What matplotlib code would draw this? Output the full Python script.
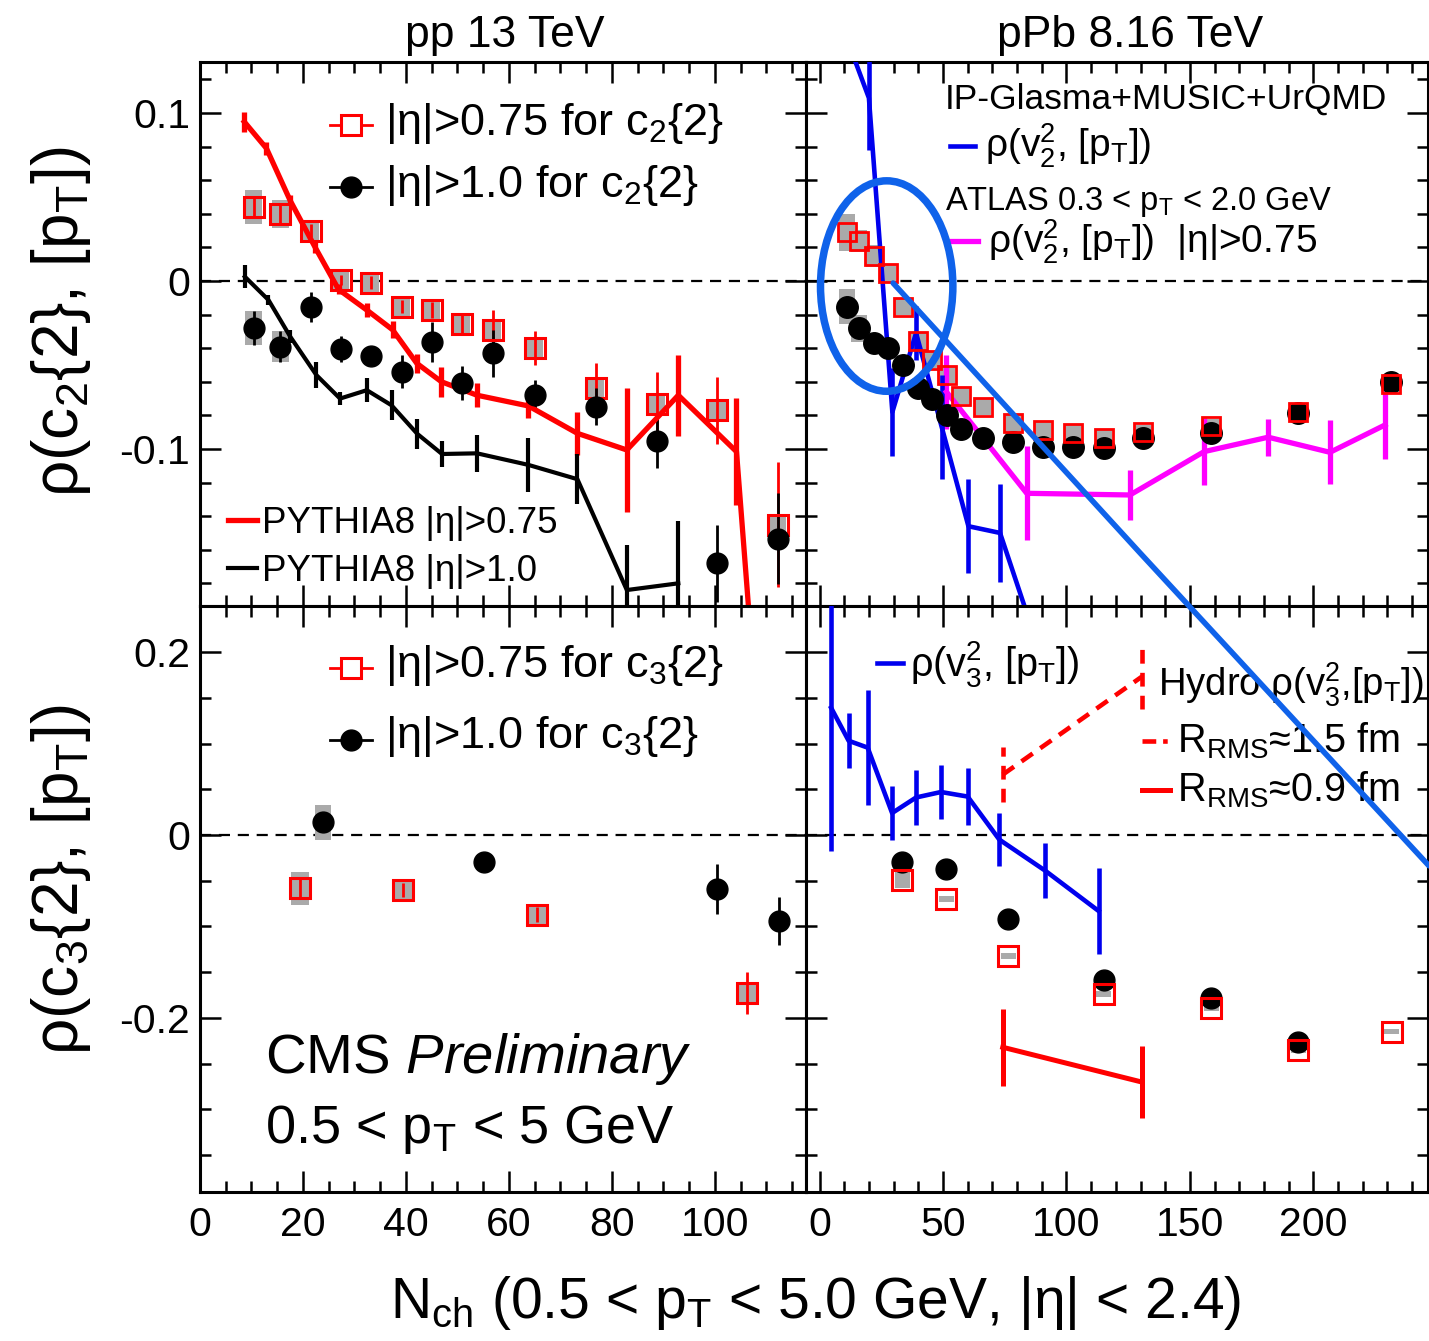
import matplotlib
matplotlib.use('Agg')
import matplotlib.pyplot as plt
from matplotlib.lines import Line2D
from matplotlib.patches import Ellipse
from matplotlib.ticker import MultipleLocator

plt.rcParams['font.family'] = ['Liberation Sans', 'DejaVu Sans']
plt.rcParams['mathtext.fontset'] = 'custom'
plt.rcParams['mathtext.rm'] = 'Liberation Sans'
plt.rcParams['mathtext.it'] = 'Liberation Sans:italic'
plt.rcParams['mathtext.bf'] = 'Liberation Sans:bold'

# ---------------- data: pp 13 TeV, c2 ----------------
pp_x = [10.4, 15.6, 21.5, 27.4, 33.2, 39.2, 45.0, 50.9, 56.9, 65.1, 76.9, 88.7, 100.5, 112.3]
pp_c2_075 = [0.044, 0.040, 0.030, 0.0006, -0.001, -0.0153, -0.0173, -0.0255, -0.029, -0.040,
             -0.064, -0.073, -0.077, -0.145]
pp_c2_075_stat = [0.006, 0.006, 0.004, 0.003, 0.004, 0.004, 0.005, 0.006, 0.012, 0.010,
                  0.015, 0.019, 0.020, 0.037]
pp_c2_075_sys = [0.010, 0.0085, 0.0065, 0.0055, 0.0055, 0.0055, 0.0055, 0.0055, 0.0055, 0.0055,
                 0.0055, 0.0055, 0.0055, 0.0065]
pp_c2_10 = [-0.028, -0.039, -0.0155, -0.0405, -0.0445, -0.054, -0.0365, -0.0606, -0.043, -0.068,
            -0.075, -0.0955, -0.168, -0.1535]
pp_c2_10_stat = [0.010, 0.009, 0.009, 0.008, 0.005, 0.010, 0.012, 0.010, 0.014, 0.009,
                 0.011, 0.016, 0.023, 0.027]
pp_c2_10_sys = [0.010, 0.009, 0.003, 0.003, 0.003, 0.003, 0.003, 0.003, 0.003, 0.003,
                0.003, 0.003, 0.003, 0.003]

# PYTHIA8
py075_x = [8.6, 12.9, 17.5, 22.3, 26.9, 32.4, 37.4, 42.1, 46.9, 53.8, 63.8, 73.3, 82.9, 92.9, 104.2, 113.5]
py075_y = [0.0948, 0.079, 0.048, 0.0204, -0.005, -0.0173, -0.029, -0.049, -0.060, -0.068,
           -0.0744, -0.0907, -0.1006, -0.068, -0.1016, -0.47]
py075_e = [0.006, 0.004, 0.003, 0.004, 0.003, 0.004, 0.005, 0.0055, 0.009, 0.007,
           0.007, 0.013, 0.037, 0.024, 0.032, 0.03]
py10_x = [8.7, 13.3, 17.5, 22.6, 27.2, 32.4, 37.2, 42.2, 47.0, 53.8, 63.8, 73.3, 82.9, 92.9]
py10_y = [0.0026, -0.0113, -0.033, -0.056, -0.070, -0.065, -0.074, -0.091, -0.103, -0.1026,
          -0.1095, -0.118, -0.184, -0.180]
py10_e = [0.007, 0.003, 0.004, 0.008, 0.004, 0.007, 0.009, 0.009, 0.008, 0.011,
          0.016, 0.015, 0.027, 0.037]

# ---------------- data: pPb 8.16 TeV, c2 ----------------
ppb_x = [11.0, 16.0, 22.0, 27.8, 33.8, 39.8, 45.5, 51.5, 57.3, 66.3, 78.3, 90.4, 102.5, 115.0,
         131.0, 158.5, 193.8, 231.4]
ppb_c2_075 = [0.029, 0.024, 0.015, 0.0045, -0.0155, -0.036, -0.047, -0.056, -0.0685, -0.075,
              -0.0847, -0.0887, -0.0903, -0.0932, -0.0897, -0.0863, -0.0778, -0.0613]
ppb_c2_075_sys = [0.011, 0.0065, 0.0065, 0.0055, 0.005, 0.005, 0.005, 0.005, 0.005, 0.005,
                  0.005, 0.005, 0.005, 0.005, 0.004, 0.004, 0.004, 0.004]
ppb_c2_10 = [-0.0153, -0.0282, -0.037, -0.0396, -0.050, -0.0635, -0.070, -0.080, -0.088, -0.0935,
             -0.0956, -0.0986, -0.0986, -0.0996, -0.0937, -0.0907, -0.0788, -0.060]
ppb_c2_10_sys = [0.0104, 0.008, 0.004, 0.004, 0.004, 0.004, 0.004, 0.004, 0.004, 0.004,
                 0.004, 0.004, 0.004, 0.004, 0.004, 0.004, 0.004, 0.004]

# IP-Glasma+MUSIC+UrQMD rho(v2^2,[pT])
v2m_x = [11.9, 20.0, 29.5, 39.1, 49.5, 60.3, 73.1, 91.7]
v2m_y = [0.141, 0.109, -0.078, -0.031, -0.087, -0.146, -0.150, -0.232]
v2m_e = [0.008, 0.031, 0.026, 0.016, 0.031, 0.028, 0.029, 0.030]

# ATLAS rho(v2^2,[pT])
atlas_x = [51.4, 83.9, 125.7, 155.7, 181.7, 206.7, 229.0]
atlas_y = [-0.066, -0.1264, -0.1274, -0.1016, -0.093, -0.102, -0.0857]
atlas_e = [0.022, 0.028, 0.015, 0.020, 0.011, 0.019, 0.020]

# ---------------- data: pp 13 TeV, c3 ----------------
pp_c3_075_x = [19.4, 39.5, 65.5, 106.3]
pp_c3_075 = [-0.058, -0.060, -0.087, -0.173]
pp_c3_075_stat = [0.010, 0.008, 0.008, 0.023]
pp_c3_075_sys = [0.018, 0.011, 0.011, 0.011]
pp_c3_10_x = [23.9, 55.1, 100.5, 112.4]
pp_c3_10 = [0.0137, -0.029, -0.059, -0.094]
pp_c3_10_stat = [0.008, 0.008, 0.027, 0.026]
pp_c3_10_sys = [0.0195, 0.004, 0.004, 0.004]

# ---------------- data: pPb 8.16 TeV, c3 ----------------
ppb_c3_x = [33.6, 51.3, 76.4, 115.1, 158.7, 193.9, 231.7]
ppb_c3_075 = [-0.049, -0.070, -0.132, -0.174, -0.189, -0.235, -0.215]
ppb_c3_075_sys = [0.009, 0.003, 0.003, 0.003, 0.003, 0.003, 0.003]
ppb_c3_10_x = [33.6, 51.3, 76.4, 115.1, 158.7, 193.9]
ppb_c3_10 = [-0.030, -0.0375, -0.092, -0.159, -0.178, -0.226]
ppb_c3_10_stat = [0.003, 0.003, 0.003, 0.006, 0.010, 0.006]

v3m_x = [4.7, 11.8, 19.5, 29.4, 39.1, 49.2, 60.0, 72.8, 91.4, 113.0]
v3m_y = [0.139, 0.103, 0.0955, 0.024, 0.041, 0.047, 0.042, -0.005, -0.039, -0.083]
v3m_e = [0.157, 0.030, 0.063, 0.030, 0.030, 0.029, 0.031, 0.029, 0.030, 0.047]

hydro_x = [74.2, 130.5]
hydro15_y = [0.066, 0.173]
hydro15_e = [0.030, 0.035]
hydro09_y = [-0.232, -0.270]
hydro09_e = [0.042, 0.039]

# hand-drawn annotations on the pPb c2 panel (data coords of that panel)
scribble_x = [29.8, 129.8, 246.8]
scribble_y = [-0.0012, -0.1619, -0.3482]
ellipse_xy = (27.2, -0.003)
ellipse_wh = (53.6, 0.1253)

RED = '#ff0000'
GREY = '#aaaaaa'
BLUE = '#0000ee'
MAGENTA = '#ff00ff'
SCRIBBLE = '#0f62ea'

fig = plt.figure(figsize=(14.29, 13.41), dpi=100)
L, M, R = 0.13996, 0.56403, 0.9993
T, H, B = 0.95377, 0.54810, 0.11111
ax_tl = fig.add_axes([L, H, M - L, T - H])
ax_tr = fig.add_axes([M, H, R - M, T - H])
ax_bl = fig.add_axes([L, B, M - L, H - B])
ax_br = fig.add_axes([M, B, R - M, H - B])


def style(ax, xlim, ylim, xmaj, xmin, ymaj, ymin, xlabels, ylabels):
    ax.set_xlim(*xlim)
    ax.set_ylim(*ylim)
    ax.xaxis.set_major_locator(MultipleLocator(xmaj))
    ax.xaxis.set_minor_locator(MultipleLocator(xmin))
    ax.yaxis.set_major_locator(MultipleLocator(ymaj))
    ax.yaxis.set_minor_locator(MultipleLocator(ymin))
    ax.tick_params(which='both', direction='in', top=True, right=True, width=1.8,
                   labelsize=29.5, pad=7)
    ax.tick_params(which='major', length=15)
    ax.tick_params(which='minor', length=8)
    ax.tick_params(axis='x', pad=10)
    if not xlabels:
        ax.tick_params(axis='x', labelbottom=False)
    if not ylabels:
        ax.tick_params(axis='y', labelleft=False)
    for s in ax.spines.values():
        s.set_linewidth(2.2)
    ax.axhline(0, color='k', lw=1.6, ls=(0, (5, 3.5)), zorder=1)


style(ax_tl, (0, 117.7), (-0.1935, 0.1304), 20, 5, 0.1, 0.02, False, True)
style(ax_tr, (-5.47, 246.4), (-0.1935, 0.1304), 50, 10, 0.1, 0.02, False, False)
style(ax_bl, (0, 117.7), (-0.3902, 0.2503), 20, 5, 0.2, 0.05, True, True)
style(ax_br, (-5.47, 246.4), (-0.3902, 0.2503), 50, 10, 0.2, 0.05, True, False)
ax_tl.yaxis.set_major_formatter(plt.FuncFormatter(lambda v, p: '0' if abs(v) < 1e-9 else f'{v:g}'))
ax_bl.yaxis.set_major_formatter(plt.FuncFormatter(lambda v, p: '0' if abs(v) < 1e-9 else f'{v:g}'))


def data(ax, x, y, sys=None, stat=None, kind='sq', box_w=3.2, ms=15, mew=2.2):
    if sys is not None:
        ax.bar(x, [2 * s for s in sys], bottom=[a - s for a, s in zip(y, sys)], width=box_w,
               color=GREY, zorder=2, linewidth=0)
    col = RED if kind == 'sq' else 'k'
    if stat is not None:
        ax.errorbar(x, y, yerr=stat, fmt='none', ecolor=col, elinewidth=2, capsize=0, zorder=3)
    if kind == 'sq':
        ax.plot(x, y, ls='none', marker='s', ms=ms, mfc='none', mec=RED, mew=mew, zorder=5)
    else:
        ax.plot(x, y, ls='none', marker='o', ms=ms, mfc='k', mec='k', zorder=5)


def model(ax, x, y, e, color, lw, ls='-'):
    eb = ax.errorbar(x, y, yerr=e, color=color, lw=lw, elinewidth=lw, capsize=0, ls=ls, zorder=4)
    if ls != '-':
        eb[2][0].set_linestyle(ls)
    return eb


# ---- top left: pp c2 ----
model(ax_tl, py075_x, py075_y, py075_e, RED, 3.8)
model(ax_tl, py10_x, py10_y, py10_e, 'k', 3.0)
data(ax_tl, pp_x, pp_c2_075, pp_c2_075_sys, pp_c2_075_stat, 'sq')
data(ax_tl, pp_x, pp_c2_10, pp_c2_10_sys, pp_c2_10_stat, 'o', ms=15)

# ---- top right: pPb c2 ----
model(ax_tr, atlas_x, atlas_y, atlas_e, MAGENTA, 3.8)
data(ax_tr, ppb_x, ppb_c2_10, ppb_c2_10_sys, None, 'o', box_w=6.5, ms=15.5)
data(ax_tr, ppb_x, ppb_c2_075, ppb_c2_075_sys, None, 'sq', box_w=6.5, ms=12.5, mew=2.0)
model(ax_tr, v2m_x, v2m_y, v2m_e, BLUE, 3.3)

# ---- bottom left: pp c3 ----
data(ax_bl, pp_c3_075_x, pp_c3_075, pp_c3_075_sys, pp_c3_075_stat, 'sq', box_w=3.6)
data(ax_bl, pp_c3_10_x, pp_c3_10, pp_c3_10_sys, pp_c3_10_stat, 'o', box_w=3.1, ms=15)

# ---- bottom right: pPb c3 ----
model(ax_br, v3m_x, v3m_y, v3m_e, BLUE, 3.3)
model(ax_br, hydro_x, hydro15_y, hydro15_e, RED, 3.3, ls=(0, (3, 2)))
model(ax_br, hydro_x, hydro09_y, hydro09_e, RED, 3.6)
data(ax_br, ppb_c3_10_x, ppb_c3_10, None, ppb_c3_10_stat, 'o', ms=15)
data(ax_br, ppb_c3_x, ppb_c3_075, ppb_c3_075_sys, None, 'sq', box_w=6.0, ms=14.5, mew=2.2)


# ---- legends / texts ----
def leg_marker(ax, x0, x1, y, kind):
    col = RED if kind == 'sq' else 'k'
    ax.plot([x0, x1], [y, y], color=col, lw=2, transform=ax.transAxes, clip_on=False, zorder=6)
    xm = 0.5 * (x0 + x1)
    if kind == 'sq':
        ax.plot([xm], [y], marker='s', ms=15, mfc='white', mec=RED, mew=2.2,
                transform=ax.transAxes, clip_on=False, zorder=7)
    else:
        ax.plot([xm], [y], marker='o', ms=15, mfc='k', mec='k',
                transform=ax.transAxes, clip_on=False, zorder=7)


def leg_line(ax, x0, x1, y, color, lw=3.8, ls='-'):
    ax.plot([x0, x1], [y, y], color=color, lw=lw, ls=ls, transform=ax.transAxes,
            clip_on=False, zorder=6)


def txt(ax, x, y, s, size, **kw):
    ax.text(x, y, s, transform=ax.transAxes, fontsize=size, va='baseline', ha='left', zorder=8, **kw)


leg_marker(ax_tl, 0.2145, 0.2838, 0.884, 'sq')
txt(ax_tl, 0.305, 0.866, r'|η|>0.75 for c$_2${2}', 32.5)
leg_marker(ax_tl, 0.2145, 0.2838, 0.770, 'o')
txt(ax_tl, 0.305, 0.752, r'|η|>1.0 for c$_2${2}', 32.5)
leg_line(ax_tl, 0.046, 0.094, 0.158, RED)
txt(ax_tl, 0.102, 0.134, r'PYTHIA8 |η|>0.75', 26.5)
leg_line(ax_tl, 0.046, 0.094, 0.070, 'k', lw=3.0)
txt(ax_tl, 0.102, 0.046, r'PYTHIA8 |η|>1.0', 26.5)

txt(ax_tr, 0.2235, 0.915, 'IP-Glasma+MUSIC+UrQMD', 25.5)
leg_line(ax_tr, 0.2315, 0.2717, 0.846, BLUE, lw=3.3)
txt(ax_tr, 0.288, 0.824, r'ρ(v$_2^2$, [p$_{\rm T}$])', 28)
txt(ax_tr, 0.2235, 0.728, r'ATLAS 0.3 < p$_{\rm T}$ < 2.0 GeV', 23.5)
leg_line(ax_tr, 0.2347, 0.2765, 0.671, MAGENTA)
txt(ax_tr, 0.2926, 0.649, r'ρ(v$_2^2$, [p$_{\rm T}$])  |η|>0.75', 28)

leg_marker(ax_bl, 0.2145, 0.2838, 0.894, 'sq')
txt(ax_bl, 0.305, 0.878, r'|η|>0.75 for c$_3${2}', 32.5)
leg_marker(ax_bl, 0.2145, 0.2838, 0.771, 'o')
txt(ax_bl, 0.305, 0.758, r'|η|>1.0 for c$_3${2}', 32.5)
txt(ax_bl, 0.107, 0.203, r'CMS $\mathit{Preliminary}$', 40.5)
txt(ax_bl, 0.107, 0.084, r'0.5 < p$_{\rm T}$ < 5 GeV', 39)

leg_line(ax_br, 0.114, 0.156, 0.903, BLUE, lw=3.3)
txt(ax_br, 0.167, 0.881, r'ρ(v$_3^2$, [p$_{\rm T}$])', 28.5)
txt(ax_br, 0.566, 0.846, r'Hydro ρ(v$_3^2$,[p$_{\rm T}$])', 27.5)
leg_line(ax_br, 0.540, 0.585, 0.770, RED, lw=3.3, ls=(0, (3, 1.5, 1, 1.5)))
txt(ax_br, 0.596, 0.751, r'R$_{\rm RMS}$≈1.5 fm', 28.5)
leg_line(ax_br, 0.540, 0.585, 0.686, RED, lw=3.6)
txt(ax_br, 0.596, 0.667, r'R$_{\rm RMS}$≈0.9 fm', 28.5)

# titles and axis labels
fig.text(0.3534, 0.965, 'pp 13 TeV', fontsize=32, ha='center', va='baseline')
fig.text(0.7908, 0.965, 'pPb 8.16 TeV', fontsize=32, ha='center', va='baseline')
fig.text(0.043, 1 - 322 / 1341, r'ρ(c$_2${2}, [p$_{\rm T}$])', fontsize=46, rotation=90,
         ha='center', va='center')
fig.text(0.043, 1 - 880 / 1341, r'ρ(c$_3${2}, [p$_{\rm T}$])', fontsize=46, rotation=90,
         ha='center', va='center')
fig.text(0.571, 0.0172, r'N$_{\rm ch}$ (0.5 < p$_{\rm T}$ < 5.0 GeV, |η| < 2.4)', fontsize=41,
         ha='center', va='baseline')

# hand-drawn annotations
fig.add_artist(Line2D(scribble_x, scribble_y, color=SCRIBBLE, lw=4.0,
                      transform=ax_tr.transData, solid_capstyle='round'))
fig.add_artist(Ellipse(ellipse_xy, ellipse_wh[0], ellipse_wh[1], fill=False, ec=SCRIBBLE, lw=5.4,
                       transform=ax_tr.transData))

fig.savefig('out.png', dpi=100)
